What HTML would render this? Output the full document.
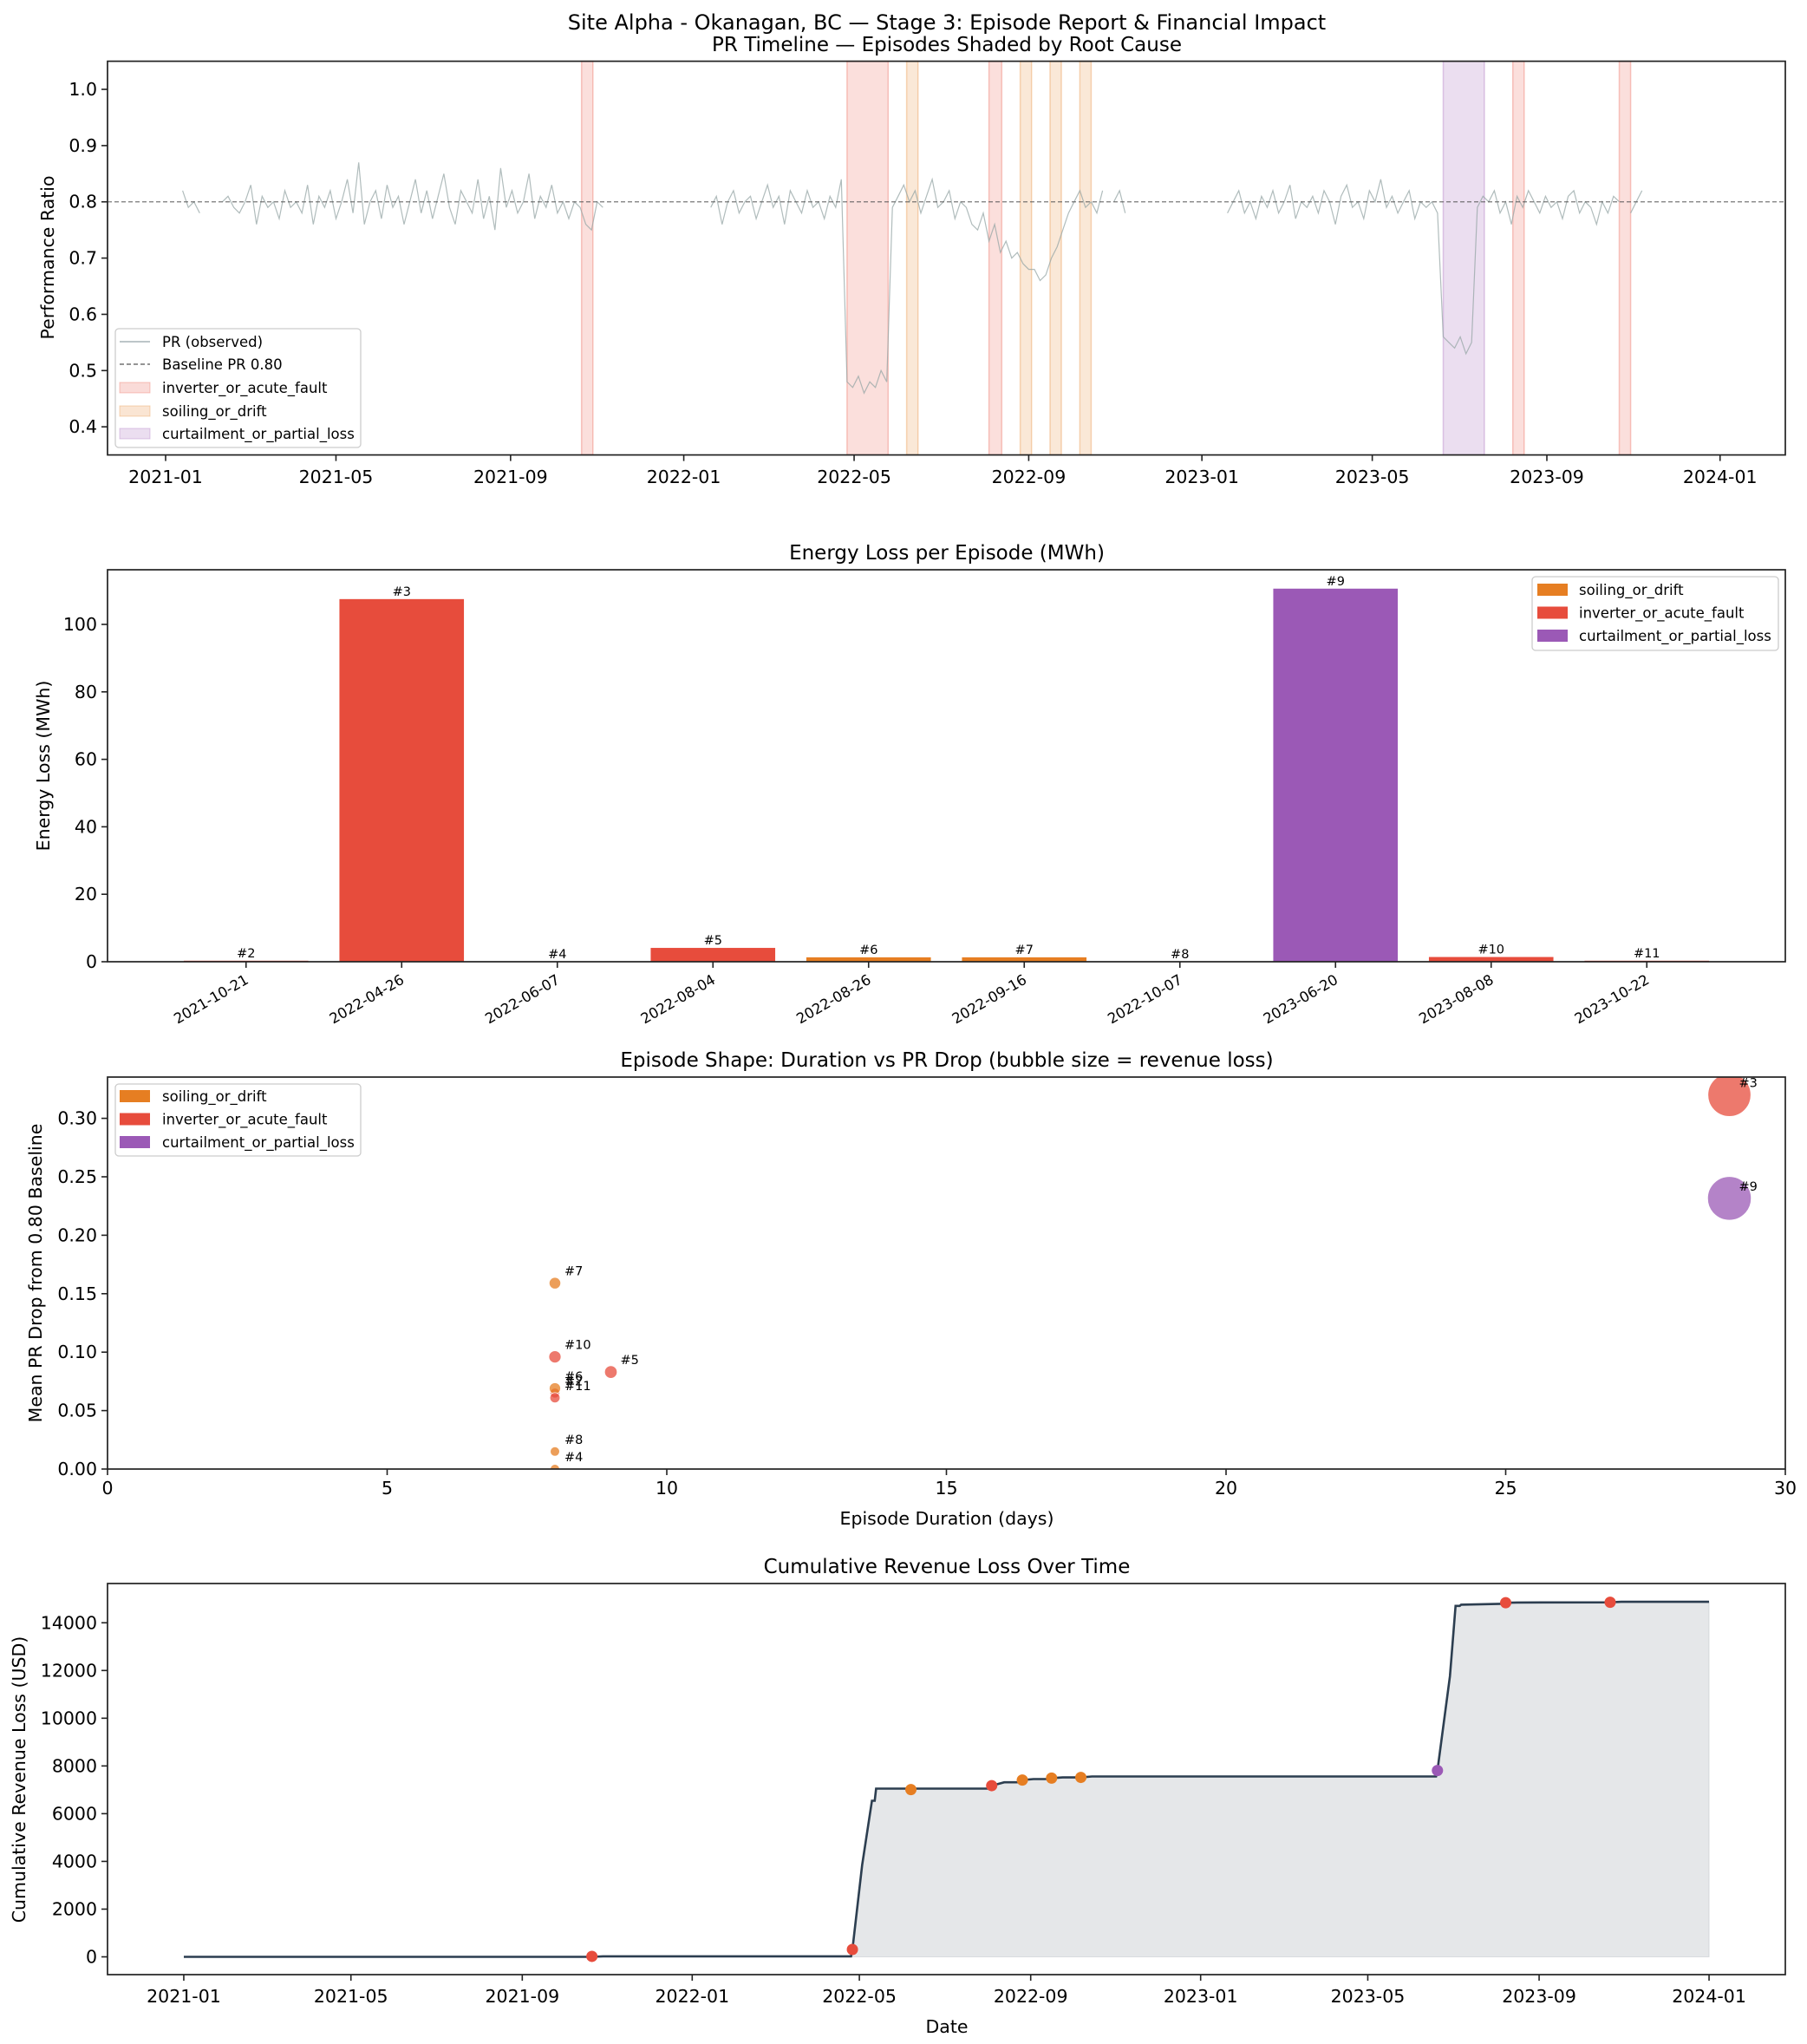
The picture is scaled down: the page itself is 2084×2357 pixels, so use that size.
<!DOCTYPE html>
<html><head><meta charset="utf-8"><title>Site Alpha - Stage 3 Episode Report</title>
<style>
html,body{margin:0;padding:0;background:#fff;}
svg{display:block;font-family:"DejaVu Sans","Liberation Sans",sans-serif;}
</style></head>
<body>
<svg id="fig" xmlns="http://www.w3.org/2000/svg" width="2084" height="2357" viewBox="0 0 2084 2357">
<rect x="0" y="0" width="2084" height="2357" fill="#fff"/>
<text x="1092" y="34" font-size="24" text-anchor="middle" fill="#000">Site Alpha - Okanagan, BC — Stage 3: Episode Report &amp; Financial Impact</text>
<g id="p1"></g>
<g id="p2"></g>
<g id="p3"></g>
<g id="p4"></g>
</svg>
<script>
// ---------- data ----------
const episodeIds = [2,3,4,5,6,7,8,9,10,11];
const episodeDates = ["2021-10-21","2022-04-26","2022-06-07","2022-08-04","2022-08-26","2022-09-16","2022-10-07","2023-06-20","2023-08-08","2023-10-22"];
const episodeTypes = ["inverter_or_acute_fault","inverter_or_acute_fault","soiling_or_drift","inverter_or_acute_fault","soiling_or_drift","soiling_or_drift","soiling_or_drift","curtailment_or_partial_loss","inverter_or_acute_fault","inverter_or_acute_fault"];
const episodeDurations = [8,29,8,9,8,8,8,29,8,8];
const energyLossMWh = [0.3,107.5,0.05,4.1,1.3,1.3,0.05,110.6,1.4,0.3];
const prDropMean = [0.065,0.320,0.0,0.083,0.069,0.159,0.015,0.2315,0.096,0.061];
const revenueLoss = [30,6700,20,140,80,90,20,6950,120,40];
const markerVals = [20,310,7010,7175,7410,7490,7520,7810,14840,14860];
const cumDays = [0,293,301,479,480,487,494,496,497,579,580,589,601,602,610,622,623,631,643,644,652,899,900,909,913,916,917,949,950,957,1024,1025,1032,1095];
const cumVals = [0,0,20,20,310,3845,6540,6540,7050,7050,7175,7315,7315,7410,7450,7450,7490,7520,7520,7520,7560,7560,7810,11760,14707,14707,14760,14800,14840,14850,14855,14860,14880,14880];
const prStartDay = 12, prStepDays = 4;
const prValues = [
0.82,0.79,0.80,0.78,null,0.78,null,0.80,0.81,0.79,
0.78,0.80,0.83,0.76,0.81,0.79,0.80,0.77,0.82,0.79,
0.80,0.78,0.83,0.76,0.81,0.79,0.82,0.77,0.80,0.84,
0.78,0.87,0.76,0.80,0.82,0.77,0.83,0.79,0.81,0.76,
0.80,0.84,0.78,0.82,0.77,0.81,0.85,0.79,0.76,0.82,
0.80,0.78,0.84,0.77,0.81,0.75,0.86,0.79,0.82,0.78,
0.80,0.85,0.77,0.81,0.79,0.83,0.78,0.80,0.77,0.80,
0.79,0.76,0.75,0.80,0.79,null,0.82,null,null,null,
0.82,null,null,null,null,null,null,null,0.82,null,
null,null,null,0.79,0.81,0.76,0.80,0.82,0.78,0.80,
0.81,0.77,0.80,0.83,0.79,0.81,0.76,0.82,0.80,0.78,
0.82,0.79,0.80,0.77,0.81,0.79,0.84,0.48,0.47,0.49,
0.46,0.48,0.47,0.50,0.48,0.79,0.81,0.83,0.80,0.82,
0.78,0.81,0.84,0.79,0.80,0.82,0.77,0.80,0.79,0.76,
0.75,0.78,0.73,0.76,0.71,0.73,0.70,0.71,0.69,0.68,
0.68,0.66,0.67,0.70,0.72,0.75,0.78,0.80,0.82,0.79,
0.80,0.78,0.82,null,0.80,0.82,0.78,null,null,0.80,
null,null,null,null,null,0.78,null,0.79,null,null,
null,null,null,null,0.78,0.80,0.82,0.78,0.80,0.77,
0.81,0.79,0.82,0.78,0.80,0.83,0.77,0.80,0.79,0.81,
0.78,0.82,0.80,0.76,0.81,0.83,0.79,0.80,0.77,0.82,
0.80,0.84,0.79,0.81,0.78,0.80,0.82,0.77,0.80,0.79,
0.80,0.78,0.56,0.55,0.54,0.56,0.53,0.55,0.79,0.81,
0.80,0.82,0.78,0.80,0.76,0.81,0.79,0.82,0.80,0.78,
0.81,0.79,0.80,0.77,0.81,0.82,0.78,0.80,0.79,0.76,
0.80,0.78,0.81,0.80,null,0.78,0.80,0.82,null,null,
null,null,null,null];
const prYTicks = [0.4,0.5,0.6,0.7,0.8,0.9,1.0];
const dateTicks = ["2021-01","2021-05","2021-09","2022-01","2022-05","2022-09","2023-01","2023-05","2023-09","2024-01"];
const energyYTicks = [0,20,40,60,80,100];
const shapeXTicks = [0,5,10,15,20,25,30];
const shapeYTicks = [0.00,0.05,0.10,0.15,0.20,0.25,0.30];
const cumYTicks = [0,2000,4000,6000,8000,10000,12000,14000];
const typeNames = ["soiling_or_drift","inverter_or_acute_fault","curtailment_or_partial_loss"];

// ---------- helpers ----------
const NS="http://www.w3.org/2000/svg";
const COLORS={soiling_or_drift:"#e67e22",inverter_or_acute_fault:"#e74c3c",curtailment_or_partial_loss:"#9b59b6"};
function el(tag,attrs,parent){const e=document.createElementNS(NS,tag);for(const k in attrs)e.setAttribute(k,attrs[k]);parent.appendChild(e);return e;}
function txt(s,attrs,parent){const e=el("text",attrs,parent);e.textContent=s;return e;}
function dayOf(s){const p=s.split("-").map(Number);return (Date.UTC(p[0],p[1]-1,p[2]||1)-Date.UTC(2021,0,1))/86400000;}
function lin(d0,d1,r0,r1){return v=>r0+(v-d0)/(d1-d0)*(r1-r0);}
const L=124,R=2059;
function frame(g,b){const f=el("rect",{x:L,y:b.t,width:R-L,height:b.b-b.t,fill:"none",stroke:"#222",'stroke-width':1.7},g);}
function yTicks(g,b,ticks,sy,fmt,name){ticks.forEach(v=>{const y=sy(v);
 const t=el("line",{x1:L-7,x2:L,y1:y,y2:y,stroke:"#222",'stroke-width':1.6},g);
 
 const l=txt(fmt(v),{x:L-12,y:y+7,'font-size':20.5,'text-anchor':'end',fill:'#000'},g);
 });}
function xTicks(g,b,ticks,sx,fmt,name,ly){ticks.forEach(v=>{const x=sx(v);
 const t=el("line",{x1:x,x2:x,y1:b.b,y2:b.b+7,stroke:"#222",'stroke-width':1.6},g);
 
 const l=txt(fmt(v),{x:x,y:ly,'font-size':20.5,'text-anchor':'middle',fill:'#000'},g);
 });}
function title(g,s,x,y,name){const t=txt(s,{x:x,y:y,'font-size':23,'text-anchor':'middle',fill:'#000'},g);}
function ylabel(g,s,x,cy,name){const t=txt(s,{x:0,y:0,'font-size':20.5,'text-anchor':'middle',fill:'#000',transform:`translate(${x},${cy}) rotate(-90)`},g);}

// ---------- Panel 1 ----------
(function(){
 const g=document.getElementById('p1');const b={t:70.6,b:524.6};
 const sx=lin(0,1,191,192.6372), sy=lin(0.35,1.05,b.b,b.t);
 episodeDates.forEach((d,i)=>{const s=dayOf(d),e=s+episodeDurations[i];const c=COLORS[episodeTypes[i]];
  const r=el("rect",{x:sx(s),y:b.t,width:sx(e)-sx(s),height:b.b-b.t,fill:c,'fill-opacity':episodeTypes[i]==='curtailment_or_partial_loss'?0.2:0.18,stroke:c,'stroke-opacity':0.3,'stroke-width':1.5},g);
  
  });
 let path="",pen=false;
 prValues.forEach((v,i)=>{if(v===null){pen=false;return;}const x=sx(prStartDay+i*prStepDays),y=sy(v);path+=(pen?"L":"M")+x.toFixed(1)+" "+y.toFixed(1);pen=true;});
 const pl=el("path",{d:path,fill:"none",stroke:"#95a5a6",'stroke-width':1.2,'stroke-opacity':0.75},g);
 
 const bl=el("line",{x1:L,x2:R,y1:sy(0.8),y2:sy(0.8),stroke:"#555",'stroke-width':1.2,'stroke-dasharray':'5,3','stroke-opacity':0.8},g);
 
 frame(g,b);
 yTicks(g,b,prYTicks,sy,v=>v.toFixed(1),'pr-y');
 xTicks(g,b,dateTicks,s=>sx(dayOf(s+"-01")),s=>s,'pr-x',557);
 title(g,"PR Timeline — Episodes Shaded by Root Cause",1092,59,'pr-timeline-title');
 ylabel(g,"Performance Ratio",62,297,'pr-y-axis-title');
 const lg=el("g",{},g);
 el("rect",{x:133,y:379,width:283,height:137,rx:4,fill:"#fff",'fill-opacity':0.8,stroke:"#ccc",'stroke-width':1.3},lg);
 const rows=[394,420,447,474,500];
 el("line",{x1:138,x2:173,y1:rows[0],y2:rows[0],stroke:"#95a5a6",'stroke-width':1.2},lg);
 el("line",{x1:138,x2:173,y1:rows[1],y2:rows[1],stroke:"#555",'stroke-width':1.2,'stroke-dasharray':'5,3'},lg);
 [["inverter_or_acute_fault",2],["soiling_or_drift",3],["curtailment_or_partial_loss",4]].forEach(([n,k])=>{el("rect",{x:138,y:rows[k]-6,width:35,height:12,fill:COLORS[n],'fill-opacity':0.2,stroke:COLORS[n],'stroke-opacity':0.3},lg);});
 ["PR (observed)","Baseline PR 0.80","inverter_or_acute_fault","soiling_or_drift","curtailment_or_partial_loss"].forEach((s,k)=>{
  const t=txt(s,{x:187,y:rows[k]+6,'font-size':16.5,fill:'#000'},lg);
  });
})();

// ---------- Panel 2 ----------
(function(){
 const g=document.getElementById('p2');const b={t:657,b:1109};
 const sx=lin(-0.89,9.89,L,R), sy=lin(0,116.2,b.b,b.t);
 energyLossMWh.forEach((v,i)=>{const x0=sx(i-0.4),x1=sx(i+0.4);
  const r=el("rect",{x:x0,y:sy(v),width:x1-x0,height:sy(0)-sy(v),fill:COLORS[episodeTypes[i]]},g);
  
  const t=txt("#"+episodeIds[i],{x:sx(i),y:sy(v)-4,'font-size':14.5,'text-anchor':'middle',fill:'#000'},g);
  });
 frame(g,b);
 yTicks(g,b,energyYTicks,sy,v=>String(v),'energy-y');
 episodeDates.forEach((d,i)=>{const x=sx(i);
  const t=el("line",{x1:x,x2:x,y1:b.b,y2:b.b+7,stroke:"#222",'stroke-width':1.6},g);
  
  const l=txt(d,{x:0,y:0,'font-size':16.5,'text-anchor':'end',fill:'#000',transform:`translate(${x+4},${b.b+24}) rotate(-30)`},g);
  });
 title(g,"Energy Loss per Episode (MWh)",1092,645,'energy-loss-title');
 ylabel(g,"Energy Loss (MWh)",57,883,'energy-y-axis-title');
 const lg=el("g",{},g);
 el("rect",{x:1767,y:665,width:284,height:85,rx:4,fill:"#fff",'fill-opacity':0.8,stroke:"#ccc",'stroke-width':1.3},lg);
 typeNames.forEach((n,k)=>{const y=680+k*26.5;el("rect",{x:1773,y:y-7,width:35,height:14,fill:COLORS[n]},lg);
  const t=txt(n,{x:1821,y:y+6,'font-size':16.5,fill:'#000'},lg);});
})();

// ---------- Panel 3 ----------
(function(){
 const g=document.getElementById('p3');const b={t:1242,b:1694};
 const sx=lin(0,30,L,R), sy=lin(0,0.3353,b.b,b.t);
 const cp=el("clipPath",{id:"c3"},g);el("rect",{x:L,y:b.t,width:R-L,height:b.b-b.t},cp);
 const pg=el("g",{'clip-path':'url(#c3)'},g);
 prDropMean.forEach((v,i)=>{const r=4.3+0.25*Math.sqrt(revenueLoss[i]);
  const c=el("circle",{cx:sx(episodeDurations[i]),cy:sy(v),r:r,fill:COLORS[episodeTypes[i]],'fill-opacity':0.75,stroke:'#fff','stroke-width':0.8},pg);
  });
 prDropMean.forEach((v,i)=>{const t=txt("#"+episodeIds[i],{x:sx(episodeDurations[i])+11,y:sy(v)-9,'font-size':14.5,fill:'#000'},g);
  });
 frame(g,b);
 yTicks(g,b,shapeYTicks,sy,v=>v.toFixed(2),'shape-y');
 xTicks(g,b,shapeXTicks,sx,v=>String(v),'shape-x',1723);
 txt("Episode Duration (days)",{x:1092,y:1758,'font-size':20.5,'text-anchor':'middle',fill:'#000'},g);
 title(g,"Episode Shape: Duration vs PR Drop  (bubble size = revenue loss)",1092,1230,'episode-shape-title');
 ylabel(g,"Mean PR Drop from 0.80 Baseline",48,1468,'shape-y-axis-title');
 const lg=el("g",{},g);
 el("rect",{x:133,y:1250,width:283,height:83,rx:4,fill:"#fff",'fill-opacity':0.8,stroke:"#ccc",'stroke-width':1.3},lg);
 typeNames.forEach((n,k)=>{const y=1264+k*26.5;el("rect",{x:138,y:y-7,width:35,height:14,fill:COLORS[n]},lg);
  const t=txt(n,{x:187,y:y+6,'font-size':16.5,fill:'#000'},lg);});
})();

// ---------- Panel 4 ----------
(function(){
 const g=document.getElementById('p4');const b={t:1826,b:2277};
 const sx=lin(-54.75,1149.75,L,R), sy=lin(-745,15645,b.b,b.t);
 let d="";cumDays.forEach((x,i)=>{d+=(i?"L":"M")+sx(x).toFixed(1)+" "+sy(cumVals[i]).toFixed(1);});
 const area=el("path",{d:d+"L"+sx(cumDays[cumDays.length-1])+" "+sy(0)+"L"+sx(cumDays[0])+" "+sy(0)+"Z",fill:"#bdc3c7",'fill-opacity':0.4,stroke:"#bdc3c7",'stroke-opacity':0.5},g);
 
 const ln=el("path",{d:d,fill:"none",stroke:"#2c3e50",'stroke-width':2.6},g);
 
 episodeDates.forEach((s,i)=>{const c=el("circle",{cx:sx(dayOf(s)),cy:sy(markerVals[i]),r:6.5,fill:COLORS[episodeTypes[i]]},g);
  });
 frame(g,b);
 yTicks(g,b,cumYTicks,sy,v=>String(v),'cum-y');
 xTicks(g,b,dateTicks,s=>sx(dayOf(s+"-01")),s=>s,'cum-x',2309);
 txt("Date",{x:1092,y:2344,'font-size':20.5,'text-anchor':'middle',fill:'#000'},g);
 title(g,"Cumulative Revenue Loss Over Time",1092,1814,'cumulative-revenue-title');
 ylabel(g,"Cumulative Revenue Loss (USD)",29,2052,'cum-y-axis-title');
})();
</script>
</body></html>
